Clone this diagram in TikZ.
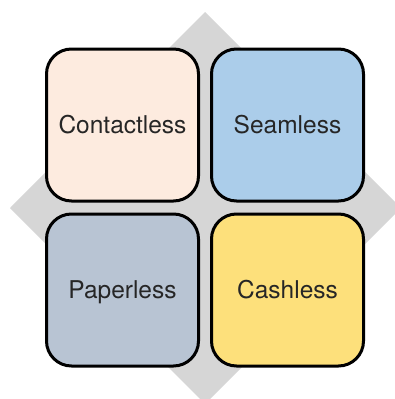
\documentclass[tikz,border=0pt]{standalone}
\usepackage{fontspec}
\setmainfont{TeX Gyre Heros}
\definecolor{diamondgray}{HTML}{D6D6D6}
\definecolor{peach}{HTML}{FDEBDF}
\definecolor{skyblue}{HTML}{ABCDEA}
\definecolor{slateblue}{HTML}{B8C4D3}
\definecolor{sunyellow}{HTML}{FDE07B}
\definecolor{labelgray}{HTML}{262626}
\begin{document}
\begin{tikzpicture}[x=1pt,y=-1pt,
  tile/.style={draw=black, line width=3pt, rounded corners=25pt,
    minimum width=152pt, minimum height=152pt, inner sep=0pt,
    text height=17.6pt, text depth=0pt,
    text=labelgray, font=\fontsize{24.5}{29}\selectfont}]
  \useasboundingbox (0,0) rectangle (395,399);
  % background diamond, cut off at the page edges
  \begin{scope}
    \clip (0,0) rectangle (395,399);
    \fill[diamondgray] (205,12) -- (401,208) -- (205,404) -- (10,208) -- cycle;
  \end{scope}
  % the four tiles
  \node[tile, fill=peach]     (contactless) at (122.5,125) {Contactless};
  \node[tile, fill=skyblue]   (seamless)    at (287.5,125) {Seamless};
  \node[tile, fill=slateblue] (paperless)   at (122.5,290) {Paperless};
  \node[tile, fill=sunyellow] (cashless)    at (287.5,290) {Cashless};
\end{tikzpicture}
\end{document}
